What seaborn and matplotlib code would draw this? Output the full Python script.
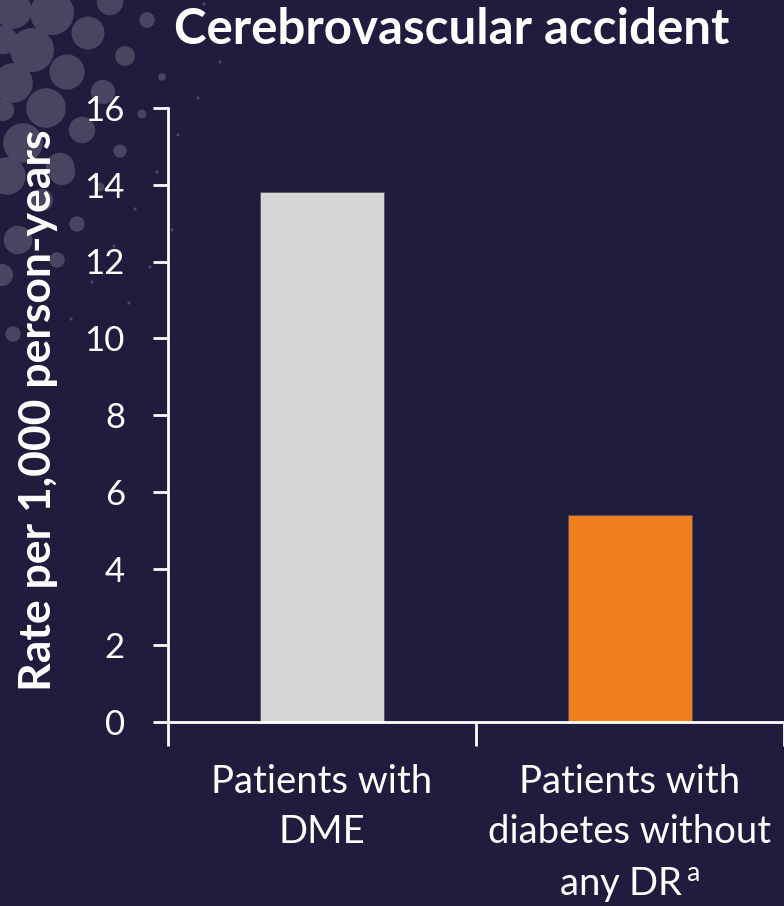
import matplotlib
matplotlib.use("Agg")
import matplotlib.pyplot as plt
import seaborn as sns
import pandas as pd
from matplotlib.patches import Circle

# ---- data ----
categories = ["Patients with\nDME", "Patients with\ndiabetes without\nany DR$^{\\,\\mathregular{a}}$"]
rates = [13.8, 5.4]
bar_colors = ["#d6d6d6", "#ef7f1f"]
y_ticks = [0, 2, 4, 6, 8, 10, 12, 14, 16]
title = "Cerebrovascular accident"
y_label = "Rate per 1,000 person-years"

BG = "#1f1c3d"
FG = "white"
DECO = "#47455f"
FONT = ["Lato", "DejaVu Sans"]

sns.set_theme(style="white")
plt.rcParams["font.family"] = FONT
plt.rcParams["mathtext.fontset"] = "custom"
plt.rcParams["mathtext.rm"] = "Lato"

fig = plt.figure(figsize=(7.84, 9.06), dpi=100, facecolor=BG)

# decorative background circles (top-left), pixel positions of the slide artwork
deco = [
    (52, 13, 20), (13, 10, 17), (110, 2, 12), (88, 33, 15), (147, 20, 7), (125, 56, 9),
    (67, 72, 16), (32, 50, 20), (3, 40, 13), (13, 83, 18), (46, 108, 18),
    (103, 92, 11), (82, 130, 12), (3, 110, 10), (23, 143, 18), (60, 167, 13),
    (120, 151, 6), (7, 176, 17), (62, 172, 12), (42, 200, 10), (77, 224, 7), (18, 240, 13),
    (57, 260, 7), (2, 275, 10), (13, 334, 7), (162, 77, 3.5), (142, 114, 4),
    (100, 187, 4),
]
for (px, py, r) in deco:
    fig.add_artist(Circle((px / 100, (906 - py) / 100), r * 1.1 / 100, transform=fig.dpi_scale_trans,
                          facecolor=DECO, edgecolor="none", zorder=0))
dots = [(204, 4), (220, 62), (198, 98), (178, 135), (157, 172), (135, 209), (172, 230),
        (150, 267), (114, 246), (129, 303), (71, 319), (92, 282)]
for (px, py) in dots:
    fig.add_artist(Circle((px / 100, (906 - py) / 100), 0.016, transform=fig.dpi_scale_trans,
                          facecolor=DECO, edgecolor="none", zorder=0))

ax = fig.add_axes([168 / 784, 1 - 722 / 906, 1 - 168 / 784, (722 - 108) / 906])
ax.set_facecolor("none")

df = pd.DataFrame({"group": categories, "rate": rates})
sns.barplot(data=df, x="group", y="rate", hue="group", palette=bar_colors,
            width=0.4, legend=False, ax=ax, saturation=1,
            edgecolor="#555555", linewidth=0.6)

ax.set_xlim(-0.5, 1.5)
ax.set_ylim(0, 16)
ax.set_yticks(y_ticks)
ax.set_yticklabels([str(t) for t in y_ticks])
ax.tick_params(axis="y", which="major", direction="out", length=11, width=2,
               color=FG, labelcolor=FG, labelsize=25, pad=20, left=True)
ax.set_xticks([0, 1])
ax.set_xticklabels(categories)
ax.tick_params(axis="x", which="major", length=0, labelcolor=FG, labelsize=27.5, pad=30)
ax.set_xticks([-0.5, 0.5, 1.5], minor=True)
ax.tick_params(axis="x", which="minor", direction="out", length=17, width=2, color=FG, bottom=True)
for lbl in ax.get_xticklabels():
    lbl.set_linespacing(1.5)

for s in ["top", "right"]:
    ax.spines[s].set_visible(False)
for s in ["left", "bottom"]:
    ax.spines[s].set_color(FG)
    ax.spines[s].set_linewidth(2)
ax.grid(False)
ax.set_xlabel("")
ax.set_ylabel(y_label, color=FG, fontsize=32, fontweight="bold")
ax.yaxis.set_label_coords(-(168 - 58) / 616, (722 - 410) / 614, transform=ax.transAxes)

fig.text(452 / 784, 1 - 30 / 906, title, color=FG, fontsize=35.5, fontweight="bold",
         ha="center", va="center")

fig.savefig("out.png", dpi=100, facecolor=BG)
